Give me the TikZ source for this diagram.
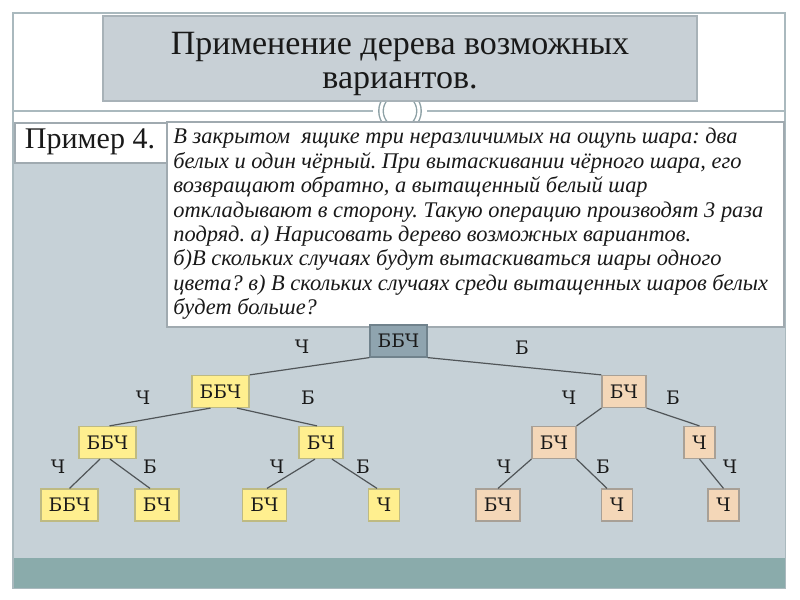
\documentclass[tikz,border=0pt]{standalone}
\usepackage{fontspec}
\setmainfont{Liberation Serif}
\newfontfamily\treefont{DejaVu Serif}
\usetikzlibrary{calc}
\definecolor{framegray}{RGB}{170,185,190}
\definecolor{contentbg}{RGB}{198,209,215}
\definecolor{titlebg}{RGB}{200,208,214}
\definecolor{titleborder}{RGB}{168,178,184}
\definecolor{tealband}{RGB}{138,171,171}
\definecolor{rootfill}{RGB}{143,164,175}
\definecolor{rootborder}{RGB}{112,130,140}
\definecolor{yfill}{RGB}{255,239,143}
\definecolor{yborder}{RGB}{190,186,130}
\definecolor{tfill}{RGB}{244,215,184}
\definecolor{tborder}{RGB}{168,160,150}
\definecolor{edgecol}{RGB}{80,85,88}
\definecolor{txtborder}{RGB}{160,170,176}
\definecolor{ornament}{RGB}{140,160,165}
\definecolor{txtcol}{RGB}{25,25,25}
\tikzset{
  tnode/.style={draw, line width=0.6pt, inner sep=0pt, minimum height=16pt,
    font=\treefont\fontsize{9.3}{10}\selectfont, text=txtcol},
  w3/.style={minimum width=28.5pt},
  w2/.style={minimum width=22pt},
  w1/.style={minimum width=15.5pt},
  rootbox/.style={tnode, fill=rootfill, draw=rootborder},
  ybox/.style={tnode, fill=yfill, draw=yborder},
  tbox/.style={tnode, fill=tfill, draw=tborder},
  elabel/.style={inner sep=0pt, font=\treefont\fontsize{9.3}{10}\selectfont, text=txtcol},
  edge/.style={draw=edgecol, line width=0.6pt}
}
\begin{document}
\frenchspacing
\begin{tikzpicture}[x=0.5pt,y=-0.5pt]
\useasboundingbox (0,0) rectangle (800,600);
\fill[white] (0,0) rectangle (800,600);
% frame
\draw[framegray, line width=0.8pt, fill=white] (13,13) rectangle (785,588);
% double horizontal line with ornament
\coordinate (l1) at (13,111);
\coordinate (l2) at (373,111);
\coordinate (l3) at (427,111);
\coordinate (l4) at (785,111);
\draw[framegray, line width=0.6pt] (l1) -- (l2);
\draw[framegray, line width=0.6pt] (l3) -- (l4);
\draw[ornament, line width=0.7pt, double=white, double distance=1.5pt] (400,111) circle [radius=19];
% title box
\node[draw=titleborder, fill=titlebg, line width=0.6pt, minimum width=297pt, minimum height=42.5pt, inner sep=0pt] (titlebox) at (400,58.5) {};
\node[align=center, font=\fontsize{17}{17.2}\selectfont, text=txtcol] (title) at (400,64) {Применение дерева возможных\\вариантов.};
% content area
\fill[contentbg] (13.5,122) rectangle (784.5,558);
\fill[tealband] (13.5,558) rectangle (784.5,587.5);
% example label box
\node[draw=txtborder, fill=white, line width=0.6pt, minimum width=76pt, minimum height=20pt, inner sep=0pt] (exbox) at (91,143) {};
\node[font=\fontsize{15}{16}\selectfont, text=txtcol] (extext) at (90,142) {Пример 4.};
% text box
\node[draw=txtborder, fill=white, line width=0.8pt, minimum width=308.5pt, minimum height=102.5pt, inner sep=0pt] (txtbox) at (475.5,224.5) {};
\node[anchor=north west, align=left, inner sep=0pt, font=\itshape\fontsize{11.2}{12.2}\selectfont, text=txtcol] (txt) at (173,128) {%
В закрытом\ \ ящике три неразличимых на ощупь шара: два\\
белых и один чёрный. При вытаскивании чёрного шара, его\\
возвращают обратно, а вытащенный белый шар\\
откладывают в сторону. Такую операцию производят 3 раза\\
подряд. а) Нарисовать дерево возможных вариантов.\\
б)В скольких случаях будут вытаскиваться шары одного\\
цвета? в) В скольких случаях среди вытащенных шаров белых\\
будет больше?};
% tree nodes
\node[rootbox, w3] (root) at (398.5,341) {ББЧ};
\node[ybox, w3] (a) at (220.5,391.5) {ББЧ};
\node[tbox, w2] (b) at (624,391.5) {БЧ};
\node[ybox, w3] (aa) at (107.5,442.5) {ББЧ};
\node[ybox, w2] (ab) at (321,442.5) {БЧ};
\node[tbox, w2] (ba) at (554,442.5) {БЧ};
\node[tbox, w1] (bb) at (699.5,442.5) {Ч};
\node[ybox, w3] (aaa) at (69.5,505) {ББЧ};
\node[ybox, w2] (aab) at (157,505) {БЧ};
\node[ybox, w2] (aba) at (264.5,505) {БЧ};
\node[ybox, w1] (abb) at (384,505) {Ч};
\node[tbox, w2] (baa) at (498,505) {БЧ};
\node[tbox, w1] (bab) at (617,505) {Ч};
\node[tbox, w1] (bbb) at (723.5,505) {Ч};
% edges
\path[edge] (root.south west) -- (a.north east);
\path[edge] (root.south east) -- (b.north west);
\path[edge] ($(a.south)+(-10,0)$) -- ($(aa.north)+(2,0)$);
\path[edge] ($(a.south)+(16.5,0)$) -- ($(ab.north)+(-4,0)$);
\path[edge] ($(aa.south)+(-7.5,0)$) -- (aaa.north);
\path[edge] ($(aa.south)+(2.5,0)$) -- ($(aab.north)+(-7,0)$);
\path[edge] ($(ab.south)+(-6,0)$) -- ($(aba.north)+(2.5,0)$);
\path[edge] ($(ab.south)+(11,0)$) -- ($(abb.north)+(-7,0)$);
\path[edge] (b.south west) -- (ba.north east);
\path[edge] (b.south east) -- (bb.north);
\path[edge] (ba.south west) -- (baa.north);
\path[edge] (ba.south east) -- ($(bab.north)+(-10,0)$);
\path[edge] (bb.south) -- (bbb.north);
% edge labels
\node[elabel] (e1) at (302,347) {Ч};
\node[elabel] (e2) at (522,348) {Б};
\node[elabel] (e3) at (143,398) {Ч};
\node[elabel] (e4) at (308,398) {Б};
\node[elabel] (e5) at (569,398) {Ч};
\node[elabel] (e6) at (673,398) {Б};
\node[elabel] (e7) at (58,467) {Ч};
\node[elabel] (e8) at (150,467) {Б};
\node[elabel] (e9) at (277,467) {Ч};
\node[elabel] (e10) at (363,467) {Б};
\node[elabel] (e11) at (504,467) {Ч};
\node[elabel] (e12) at (603,467) {Б};
\node[elabel] (e13) at (730,467) {Ч};
\end{tikzpicture}
\end{document}
